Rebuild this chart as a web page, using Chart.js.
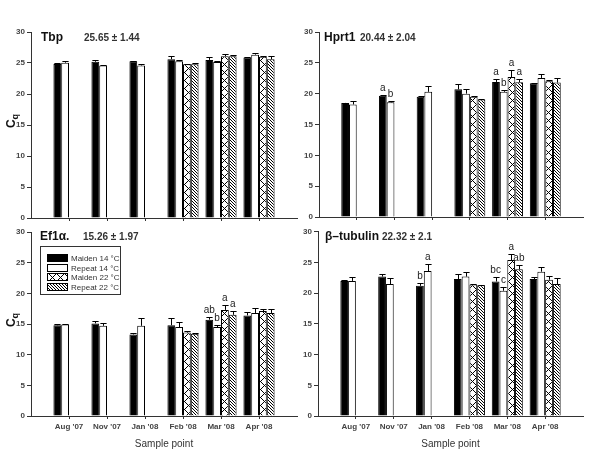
<!DOCTYPE html>
<html>
<head>
<meta charset="utf-8">
<script src="https://cdn.jsdelivr.net/npm/chart.js@4.4.1/dist/chart.umd.min.js"></script>
<style>
  body { margin: 0; background: #fff; }
  #wrap { position: relative; width: 600px; height: 450px; }
  canvas { position: absolute; }
</style>
</head>
<body>
<div id="wrap">
  <canvas id="tbp" width="300" height="225" style="left:0;top:0"></canvas>
  <canvas id="hprt" width="300" height="225" style="left:300px;top:0"></canvas>
  <canvas id="ef1" width="300" height="225" style="left:0;top:225px"></canvas>
  <canvas id="tub" width="300" height="225" style="left:300px;top:225px"></canvas>
</div>
<script>
const categories = ["Aug '07", "Nov '07", "Jan '08", "Feb '08", "Mar '08", "Apr '08"];
const seriesNames = ['Maiden 14 °C', 'Repeat 14 °C', 'Maiden 22 °C', 'Repeat 22 °C'];
const yTicks = [0, 5, 10, 15, 20, 25, 30];

// rows = series (Maiden 14, Repeat 14, Maiden 22, Repeat 22), cols = sample point
const tbpMean = [
  [24.85, 25.2, 25.3, 25.6, 25.5, 25.9],
  [25.05, 24.6, 24.6, 25.3, 25.15, 26.35],
  [null, null, null, 24.8, 26.1, 26.0],
  [null, null, null, 24.8, 26.1, 25.6]
];
const tbpErr = [
  [0.1, 0.3, 0.1, 0.6, 0.5, 0.1],
  [0.35, 0.05, 0.2, 0.2, 0.1, 0.2],
  [null, null, null, 0.1, 0.4, 0.15],
  [null, null, null, 0.15, 0.25, 0.5]
];
const tbpLetters = [[], [], [], []];

const hprtMean = [
  [18.5, 19.65, 19.5, 20.7, 21.9, 21.7],
  [18.25, 18.6, 20.3, 20.0, 20.3, 22.55],
  [null, null, null, 19.5, 22.7, 22.0],
  [null, null, null, 19.05, 21.85, 21.8]
];
const hprtErr = [
  [0.05, 0.2, 0.1, 0.8, 0.5, 0.05],
  [0.55, 0.15, 1.0, 0.7, 0.3, 0.7],
  [null, null, null, 0.1, 1.1, 0.25],
  [null, null, null, 0.05, 0.45, 0.8]
];
const hprtLetters = [
  ['', 'a', '', '', 'a', ''],
  ['', 'b', '', '', 'b', ''],
  ['', '', '', '', 'a', ''],
  ['', '', '', '', 'a', '']
];

const ef1Mean = [
  [14.8, 15.1, 13.3, 14.8, 15.7, 16.4],
  [14.9, 14.7, 14.7, 14.5, 14.5, 16.8],
  [null, null, null, 13.6, 17.3, 17.1],
  [null, null, null, 13.4, 16.5, 16.8]
];
const ef1Err = [
  [0.2, 0.4, 0.2, 1.1, 0.5, 0.6],
  [0.1, 0.5, 1.2, 0.8, 0.4, 0.8],
  [null, null, null, 0.2, 0.8, 0.4],
  [null, null, null, 0.1, 0.6, 0.7]
];
const ef1Letters = [
  ['', '', '', '', 'ab', ''],
  ['', '', '', '', 'b', ''],
  ['', '', '', '', 'a', ''],
  ['', '', '', '', 'a', '']
];

const tubMean = [
  [22.0, 22.7, 21.2, 22.3, 21.9, 22.3],
  [22.0, 21.5, 23.6, 22.7, 20.4, 23.5],
  [null, null, null, 21.4, 25.4, 22.2],
  [null, null, null, 21.3, 23.9, 21.5]
];
const tubErr = [
  [0.1, 0.5, 0.4, 0.9, 0.8, 0.4],
  [0.7, 0.9, 1.2, 0.8, 0.6, 0.8],
  [null, null, null, 0.1, 1.0, 0.6],
  [null, null, null, 0.1, 0.7, 0.9]
];
const tubLetters = [
  ['', '', 'b', '', 'bc', ''],
  ['', '', 'a', '', 'c', ''],
  ['', '', '', '', 'a', ''],
  ['', '', '', '', 'ab', '']
];

const FONT = "'Liberation Sans', Arial, sans-serif";
const AXIS = '#333';

// pixel patterns for the 22 °C bars
function makePattern(size, on) {
  const c = document.createElement('canvas');
  c.width = size; c.height = size;
  const g = c.getContext('2d');
  g.fillStyle = '#fff';
  g.fillRect(0, 0, size, size);
  g.fillStyle = '#000';
  for (let x = 0; x < size; x++) {
    for (let y = 0; y < size; y++) {
      if (on(x, y)) g.fillRect(x, y, 1, 1);
    }
  }
  return g.createPattern(c, 'repeat');
}
const crossPattern = makePattern(8, (x, y) => (x - y + 8) % 8 === 0 || (x + y) % 8 === 0);
const hatchPattern = makePattern(3, (x, y) => (x - y + 3) % 3 === 0);
const fills = ['#000', '#fff', crossPattern, hatchPattern];

// error bars (upper only) + significance letters
const errorBars = {
  id: 'errorBars',
  afterDatasetsDraw(chart) {
    const { ctx, scales: { y } } = chart;
    ctx.save();
    ctx.strokeStyle = '#000';
    ctx.lineWidth = 1;
    chart.data.datasets.forEach((ds, d) => {
      const meta = chart.getDatasetMeta(d);
      meta.data.forEach((bar, i) => {
        const v = ds.data[i].y, e = ds.errors[i];
        if (v == null) return;
        let capY = bar.y;
        if (e) {
          const x = Math.round(bar.x) + 0.5;
          capY = Math.round(y.getPixelForValue(v + e)) + 0.5;
          const half = bar.width * 0.4;
          ctx.beginPath();
          ctx.moveTo(x, bar.y);
          ctx.lineTo(x, capY);
          ctx.moveTo(x - half, capY);
          ctx.lineTo(x + half, capY);
          ctx.stroke();
        }
        const lab = ds.letters[i];
        if (lab) {
          ctx.fillStyle = '#222';
          ctx.font = '10px ' + FONT;
          ctx.textAlign = 'center';
          ctx.textBaseline = 'alphabetic';
          ctx.fillText(lab, bar.x, capY - 5);
        }
      });
    });
    ctx.restore();
  }
};

// gene name + mean ± sd, y title with subscript, optional legend
const panelText = {
  id: 'panelText',
  afterDraw(chart, args, o) {
    const { ctx, chartArea } = chart;
    ctx.save();
    ctx.fillStyle = '#111';
    ctx.textBaseline = 'alphabetic';
    ctx.textAlign = 'left';
    ctx.font = 'bold 12px ' + FONT;
    ctx.fillText(o.gene, o.tx, o.ty);
    ctx.font = 'bold 10px ' + FONT;
    ctx.fillStyle = '#333';
    ctx.fillText(o.stat, o.sx, o.ty);

    if (o.yTitle) {
      ctx.save();
      ctx.translate(15, (chartArea.top + chartArea.bottom) / 2 - 4);
      ctx.rotate(-Math.PI / 2);
      ctx.fillStyle = '#111';
      ctx.font = 'bold 12px ' + FONT;
      const wC = ctx.measureText('C').width;
      ctx.font = 'bold 9px ' + FONT;
      const wq = ctx.measureText('q').width;
      const x0 = -(wC + wq) / 2;
      ctx.font = 'bold 12px ' + FONT;
      ctx.fillText('C', x0, 0);
      ctx.font = 'bold 9px ' + FONT;
      ctx.fillText('q', x0 + wC, 3);
      ctx.restore();
    }

    if (o.legend) {
      ctx.strokeStyle = AXIS;
      ctx.lineWidth = 1;
      ctx.strokeRect(40.5, 21.5, 80, 48);
      ctx.font = '8px ' + FONT;
      ctx.textBaseline = 'middle';
      seriesNames.forEach((name, i) => {
        const yy = Math.round(33 + i * 9.7);
        ctx.fillStyle = fills[i];
        ctx.fillRect(47, yy - 3, 20, 6);
        ctx.strokeStyle = '#000';
        ctx.strokeRect(47.5, yy - 3.5, 20, 7);
        ctx.fillStyle = '#333';
        ctx.fillText(name, 71, yy + 0.5);
      });
    }
    ctx.restore();
  }
};

function makeChart(id, means, errs, letters, p) {
  const W = 300, H = 225;
  new Chart(document.getElementById(id), {
    type: 'bar',
    data: {
      datasets: seriesNames.map((name, s) => ({
        label: name,
        data: categories.map((c, i) => ({ x: i + 1, y: means[s][i] })),
        errors: errs[s],
        letters: letters[s],
        backgroundColor: fills[s],
        borderColor: '#000',
        borderWidth: 1,
        borderSkipped: 'start',
        categoryPercentage: 0.82,
        barPercentage: 1.0
      }))
    },
    options: {
      responsive: false,
      animation: false,
      events: [],
      layout: { padding: { top: p.area.top, right: W - p.area.right, left: 0, bottom: 0 } },
      plugins: {
        legend: { display: false },
        tooltip: { enabled: false },
        panelText: p.text
      },
      scales: {
        x: {
          type: 'linear',
          min: 0,
          max: 7,
          offset: false,
          afterBuildTicks: s => { s.ticks = categories.map((c, i) => ({ value: i + 1 })); },
          afterFit: s => { s.height = H - p.area.bottom; },
          grid: { drawOnChartArea: false, offset: false, tickLength: 3, color: AXIS },
          border: { color: AXIS },
          ticks: {
            display: p.xLabels,
            autoSkip: false,
            maxRotation: 0,
            padding: 3,
            color: '#444',
            font: { family: FONT, size: 8, weight: 'bold' },
            callback: v => categories[v - 1] || ''
          },
          title: {
            display: p.xLabels,
            text: 'Sample point',
            color: '#333',
            font: { family: FONT, size: 10 },
            padding: { top: 0, bottom: 0 }
          }
        },
        y: {
          min: 0,
          max: 30,
          afterBuildTicks: s => { s.ticks = yTicks.map(v => ({ value: v })); },
          afterFit: s => { s.width = p.area.left; },
          grid: { drawOnChartArea: false, tickLength: 4, color: AXIS },
          border: { color: AXIS },
          ticks: {
            padding: 2,
            color: '#444',
            font: { family: FONT, size: 8, weight: 'bold' }
          }
        }
      }
    },
    plugins: [errorBars, panelText]
  });
}

makeChart('tbp', tbpMean, tbpErr, tbpLetters, {
  area: { left: 31, top: 32, right: 297, bottom: 218 },
  xLabels: false,
  text: { gene: 'Tbp', stat: '25.65 ± 1.44', tx: 41, sx: 84, ty: 41, yTitle: true }
});
makeChart('hprt', hprtMean, hprtErr, hprtLetters, {
  area: { left: 19, top: 32, right: 283, bottom: 217 },
  xLabels: false,
  text: { gene: 'Hprt1', stat: '20.44 ± 2.04', tx: 24, sx: 60, ty: 41, yTitle: false }
});
makeChart('ef1', ef1Mean, ef1Err, ef1Letters, {
  area: { left: 31, top: 7, right: 297, bottom: 191 },
  xLabels: true,
  text: { gene: 'Ef1α.', stat: '15.26 ± 1.97', tx: 40, sx: 83, ty: 15, yTitle: true, legend: true }
});
makeChart('tub', tubMean, tubErr, tubLetters, {
  area: { left: 18, top: 6, right: 283, bottom: 191 },
  xLabels: true,
  text: { gene: 'β–tubulin', stat: '22.32 ± 2.1', tx: 25, sx: 82, ty: 15, yTitle: false }
});
</script>
</body>
</html>
